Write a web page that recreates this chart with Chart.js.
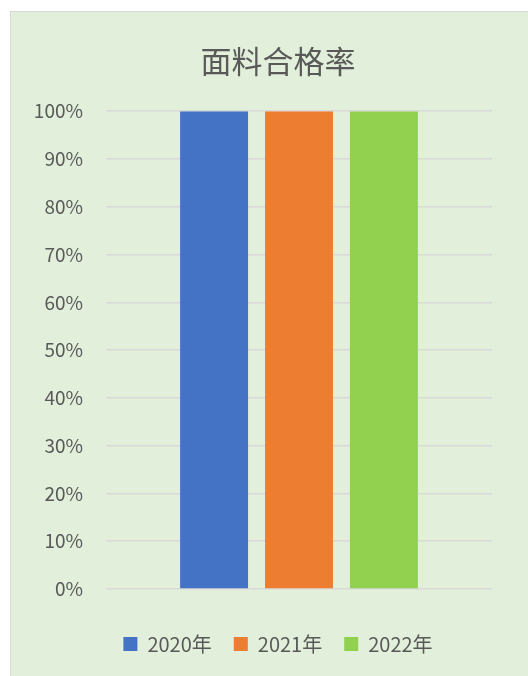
<!DOCTYPE html>
<html><head><meta charset="utf-8">
<script src="https://cdn.jsdelivr.net/npm/chart.js@4/dist/chart.umd.min.js"></script>
<style>
html,body{margin:0;padding:0;background:#fff;width:528px;height:676px;overflow:hidden}
#panel{position:absolute;left:10px;top:11px;width:540px;height:670px;border:1px solid #d9d9d9;background:#E2EFDA}
#wrap{position:absolute;left:0;top:0;width:534px;height:664px}
</style></head><body>
<div id="panel"><div id="wrap"><canvas id="c"></canvas></div></div>
<script>
const titleText = '面料合格率';
const categories = [''];
const seriesNames = ['2020年', '2021年', '2022年'];
const series2020 = [1.00];
const series2021 = [1.00];
const series2022 = [1.00];
const seriesColors = ['#4472C4', '#ED7D31', '#92D050'];
const yMin = 0, yMax = 1, yStep = 0.1;

const font = '"Noto Sans CJK SC", "Noto Sans", sans-serif';
const allSeries = [series2020, series2021, series2022];
new Chart(document.getElementById('c'), {
  type: 'bar',
  data: {
    labels: categories,
    datasets: allSeries.map((d, i) => ({
      label: seriesNames[i], data: d, backgroundColor: seriesColors[i],
      categoryPercentage: 0.66, barPercentage: 0.8, yAxisID: 'y'
    }))
  },
  options: {
    responsive: true, maintainAspectRatio: false, animation: false,
    layout: { padding: { left: 0, right: 0, top: 0, bottom: 12 } },
    plugins: {
      title: { display: true, text: titleText, color: '#595959',
        font: { family: font, size: 31, weight: 'normal' }, padding: { top: 31, bottom: 31 } },
      legend: { position: 'bottom',
        labels: { color: '#595959', font: { family: font, size: 20 }, boxWidth: 14, boxHeight: 14, padding: 22 } },
      tooltip: { enabled: false }
    },
    scales: {
      x: { afterFit: s => { s.height = 23; },
        ticks: { display: false }, grid: { display: false }, border: { display: false } },
      y: { min: yMin, max: yMax,
        afterFit: s => { s.width = 95; },
        ticks: { stepSize: yStep, color: '#595959', padding: 23,
          font: { family: font, size: 19 },
          callback: v => Math.round(v * 100) + '%' },
        grid: { color: '#D9D9D9', lineWidth: 1.5, drawTicks: false },
        border: { display: false } },
      yr: { position: 'right', display: true, min: yMin, max: yMax,
        afterFit: s => { s.width = 53; },
        ticks: { display: false }, grid: { display: false, drawTicks: false }, border: { display: false } }
    }
  }
});
</script>
</body></html>
